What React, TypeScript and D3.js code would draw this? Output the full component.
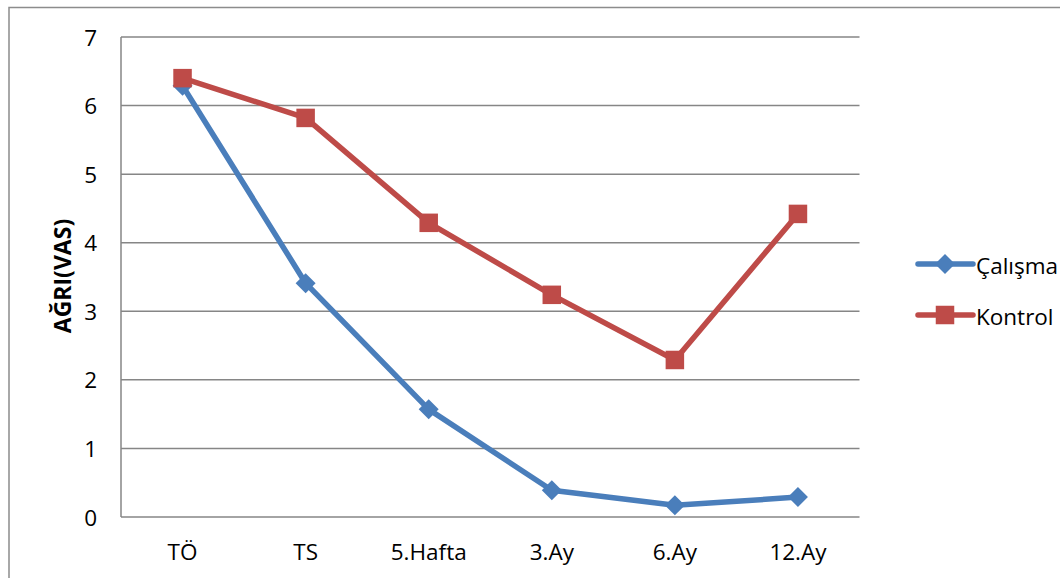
import React from "react";
import * as d3 from "d3";

const categories = ["TÖ", "TS", "5.Hafta", "3.Ay", "6.Ay", "12.Ay"];
const calismaValues = [6.29, 3.41, 1.57, 0.39, 0.17, 0.29];
const kontrolValues = [6.4, 5.82, 4.29, 3.24, 2.29, 4.42];
const yTicks = [0, 1, 2, 3, 4, 5, 6, 7];

const seriesList = [
  { name: "Çalışma", values: calismaValues, color: "#4A7EBB", marker: "diamond" },
  { name: "Kontrol", values: kontrolValues, color: "#BE4B48", marker: "square" },
];

const W = 1060;
const H = 578;
const plot = { left: 121, right: 859.5, top: 37, bottom: 517 };
const FONT = "'Open Sans', 'Noto Sans', sans-serif";
const TICK_SIZE = 22.5;

function Marker({ type, x, y, color }: { type: string; x: number; y: number; color: string }) {
  if (type === "square") {
    const s = 18.5;
    return <rect x={x - s / 2} y={y - s / 2} width={s} height={s} fill={color} />;
  }
  const r = 10;
  return (
    <path d={`M${x},${y - r}L${x + r},${y}L${x},${y + r}L${x - r},${y}Z`} fill={color} />
  );
}

export default function App() {
  const x = d3
    .scaleBand<string>()
    .domain(categories)
    .range([plot.left, plot.right]);
  const y = d3.scaleLinear().domain([0, 7]).range([plot.bottom, plot.top]);
  const cx = (c: string) => (x(c) ?? 0) + x.bandwidth() / 2;

  const line = d3
    .line<number>()
    .x((_, i) => cx(categories[i]))
    .y((v) => y(v));

  return (
    <svg
      width={W}
      height={H}
      style={{ position: "absolute", left: 0, top: 0, background: "#fff" }}
      fontFamily={FONT}
    >
      <rect x={9} y={7.5} width={W} height={H} fill="#fff" stroke="#8c8c8c" strokeWidth={1.5} />

      {yTicks.map((t) => (
        <g key={t}>
          {t > 0 && (
            <line
              x1={plot.left}
              x2={plot.right}
              y1={y(t)}
              y2={y(t)}
              stroke="#868686"
              strokeWidth={1.5}
            />
          )}
          <text
            x={97}
            y={y(t)}
            textAnchor="end"
            dominantBaseline="central"
            fontSize={TICK_SIZE}
            fill="#000"
          >
            {t}
          </text>
        </g>
      ))}
      <line x1={plot.left} x2={plot.left} y1={plot.top} y2={plot.bottom} stroke="#868686" strokeWidth={1.5} />
      <line x1={plot.left} x2={plot.right} y1={plot.bottom} y2={plot.bottom} stroke="#868686" strokeWidth={1.5} />

      {categories.map((c) => (
        <text
          key={c}
          x={cx(c)}
          y={551}
          textAnchor="middle"
          dominantBaseline="central"
          fontSize={TICK_SIZE}
          fill="#000"
        >
          {c}
        </text>
      ))}

      <text
        transform={`translate(62,276) rotate(-90)`}
        textAnchor="middle"
        dominantBaseline="central"
        fontSize={23}
        fontWeight="bold"
        fontFamily="'Liberation Sans Narrow', 'Open Sans', sans-serif"
        fill="#000"
      >
        AĞRI(VAS)
      </text>

      {seriesList.map((s) => (
        <g key={s.name}>
          <path
            d={line(s.values) ?? ""}
            fill="none"
            stroke={s.color}
            strokeWidth={5.5}
            strokeLinejoin="round"
            strokeLinecap="round"
          />
          {s.values.map((v, i) => (
            <Marker key={i} type={s.marker} x={cx(categories[i])} y={y(v)} color={s.color} />
          ))}
        </g>
      ))}

      {seriesList.map((s, i) => {
        const ly = 264 + i * 51;
        return (
          <g key={s.name}>
            <line x1={918} x2={973} y1={ly} y2={ly} stroke={s.color} strokeWidth={5.5} strokeLinecap="round" />
            <Marker type={s.marker} x={945} y={ly} color={s.color} />
            <text x={976} y={ly + 1} dominantBaseline="central" fontSize={TICK_SIZE} fill="#000">
              {s.name}
            </text>
          </g>
        );
      })}
    </svg>
  );
}
